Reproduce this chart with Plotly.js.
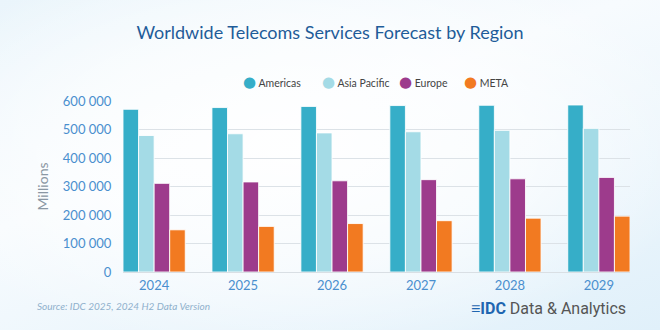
<!DOCTYPE html>
<html>
<head>
<meta charset="utf-8">
<script src="https://cdn.plot.ly/plotly-3.0.1.min.js"></script>
<style>
  html, body { margin: 0; padding: 0; }
  body {
    width: 660px; height: 330px; overflow: hidden;
    background:
      radial-gradient(ellipse at 45% 45%, rgba(255,255,255,0.95) 0%, rgba(255,255,255,0.6) 45%, rgba(255,255,255,0) 80%),
      linear-gradient(160deg, #eaf5fb 0%, #f7fbfe 40%, #e0f0fa 100%);
  }
  #chart { width: 660px; height: 330px; }
</style>
</head>
<body>
<div id="chart"></div>
<script>
const years = ['2024', '2025', '2026', '2027', '2028', '2029'];
const americas    = [571000, 577000, 581000, 584000, 585000, 586000];
const asiaPacific = [479000, 485000, 488000, 492000, 497000, 504000];
const europe      = [311000, 316000, 320000, 324000, 327000, 332000];
const meta        = [148000, 160000, 170000, 180000, 189000, 196000];

const seriesNames  = ['Americas', 'Asia Pacific', 'Europe', 'META'];
const seriesValues = [americas, asiaPacific, europe, meta];
const seriesColors = ['#36aec8', '#a4dbe6', '#9d3b8c', '#f27a21'];

const traces = seriesValues.map((vals, i) => ({
  type: 'bar', x: years, y: vals, name: seriesNames[i],
  marker: { color: seriesColors[i], line: { color: 'rgba(255,255,255,0.85)', width: 1 } },
  showlegend: false, hoverinfo: 'x+y+name'
}));

// legend drawn as text items (round markers, tight spacing like the reference)
const legendX = [0.2320, 0.3885, 0.5404, 0.6686];
const legendAnn = seriesNames.map((n, i) => ({
  xref: 'paper', yref: 'paper', x: legendX[i], y: 1.111, xanchor: 'left', yanchor: 'middle',
  showarrow: false,
  text: '<span style="color:' + seriesColors[i] + ';font-size:15px;font-family:DejaVu Sans">●</span> ' + n,
  font: { size: 10.5, color: '#444', family: 'Lato, "Open Sans", sans-serif' }
}));

const layout = {
  width: 660, height: 330,
  paper_bgcolor: 'rgba(0,0,0,0)', plot_bgcolor: 'rgba(0,0,0,0)',
  margin: { l: 123, r: 30, t: 101, b: 58 },
  separators: '. ',
  showlegend: false,
  font: { family: 'Lato, "Open Sans", sans-serif', color: '#555' },
  title: {
    text: 'Worldwide Telecoms Services Forecast by Region',
    font: { family: 'Lato, "Open Sans", sans-serif', size: 18, color: '#1f5c99' },
    x: 0.5, xanchor: 'center', xref: 'container',
    y: 0.9, yref: 'container', yanchor: 'middle'
  },
  barmode: 'group', bargap: 0.3, bargroupgap: 0,
  xaxis: {
    type: 'category', range: [-0.35, 5.35],
    tickfont: { size: 13, color: '#4a8fce', family: 'Lato, "Open Sans", sans-serif' },
    showgrid: false, zeroline: false, showline: true, linecolor: '#d9dfe4', linewidth: 1,
    ticks: 'outside', ticklen: 1, tickcolor: 'rgba(0,0,0,0)', side: 'bottom'
  },
  yaxis: {
    range: [0, 600000], tickvals: [0, 100000, 200000, 300000, 400000, 500000, 600000],
    tickformat: ',d',
    tickfont: { size: 13, color: '#4a8fce', family: 'Lato, "Open Sans", sans-serif' },
    gridcolor: '#dce2e7', gridwidth: 1, zeroline: false, showline: false,
    ticks: 'outside', ticklen: 8, tickcolor: 'rgba(0,0,0,0)',
    title: { text: 'Millions', font: { size: 14, color: '#8a97a3', family: 'Lato, "Open Sans", sans-serif' }, standoff: 10 }
  },
  annotations: legendAnn.concat([
    {
      xref: 'paper', yref: 'paper', x: -0.1736, y: -0.199, xanchor: 'left', yanchor: 'middle',
      text: '<i>Source: IDC 2025, 2024 H2 Data Version</i>', showarrow: false,
      font: { size: 10, color: '#8fb0cc', family: 'Lato, "Open Sans", sans-serif' }
    },
    {
      xref: 'paper', yref: 'paper', x: 0.996, y: -0.216, xanchor: 'right', yanchor: 'middle',
      text: '<span style="color:#1f66b0"><b>≡IDC</b></span> Data &amp; Analytics', showarrow: false,
      font: { size: 16, color: '#555', family: 'Roboto, "Liberation Sans", sans-serif' }
    }
  ])
};

Plotly.newPlot('chart', traces, layout, { displayModeBar: false, staticPlot: true });
</script>
</body>
</html>
